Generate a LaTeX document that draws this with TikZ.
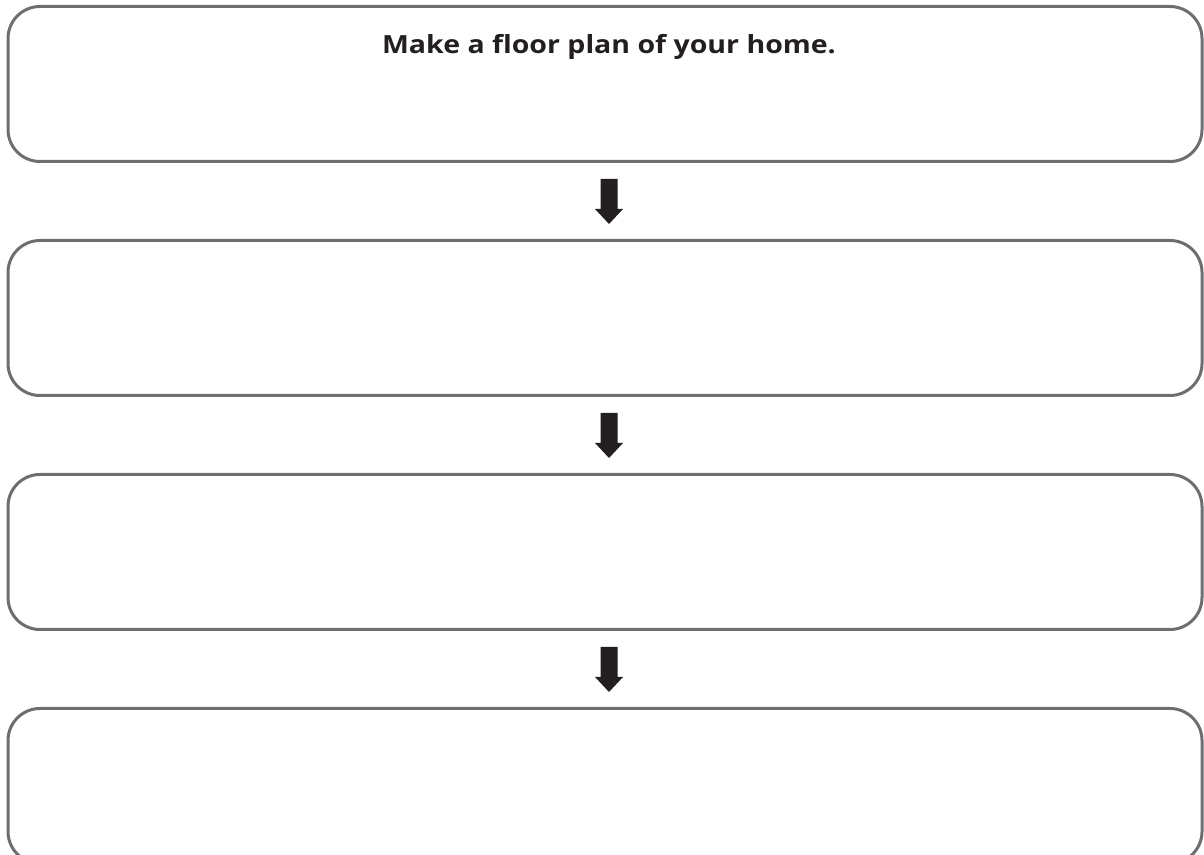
\documentclass[tikz,border=0pt]{standalone}
\usepackage{fontspec}
\setmainfont{Open Sans}
\newfontfamily\stepfont[FakeStretch=1.14]{Open Sans}
\usetikzlibrary{calc,positioning}
\definecolor{boxgray}{HTML}{6D6E71}
\definecolor{inkblack}{HTML}{231F20}
\tikzset{
  stepbox/.style={draw=boxgray,line width=3pt,rounded corners=32pt,
    minimum width=1194pt,minimum height=155pt,inner sep=0pt},
  steptext/.style={font=\stepfont\fontsize{25}{30}\selectfont\bfseries,text=inkblack,inner sep=0pt},
  blockarrow/.style={fill=inkblack}
}
\begin{document}
\begin{tikzpicture}[x=1pt,y=1pt]
  \useasboundingbox (0,0) rectangle (1204,854);
  \node[stepbox] (b1) at (605,854-84) {};
  \node[stepbox,below=76pt of b1] (b2) {};
  \node[stepbox,below=76pt of b2] (b3) {};
  \node[stepbox,below=76pt of b3] (b4) {};
  \node[steptext] (t1) at ([xshift=4pt,yshift=-42pt]b1.north) {Make a floor plan of your home.};
  % arrows between the steps
  \foreach \a/\b in {b1/b2,b2/b3,b3/b4}{
    \coordinate (m) at ($(\a.south)!0.5!(\b.north)+(4,0)$);
    \fill[blockarrow] ([shift={(-8.5,22)}]m) -- ([shift={(8.5,22)}]m)
      -- ([shift={(8.5,-8)}]m) -- ([shift={(14,-8)}]m) -- ([shift={(0,-23)}]m)
      -- ([shift={(-14,-8)}]m) -- ([shift={(-8.5,-8)}]m) -- cycle;
  }
\end{tikzpicture}
\end{document}
